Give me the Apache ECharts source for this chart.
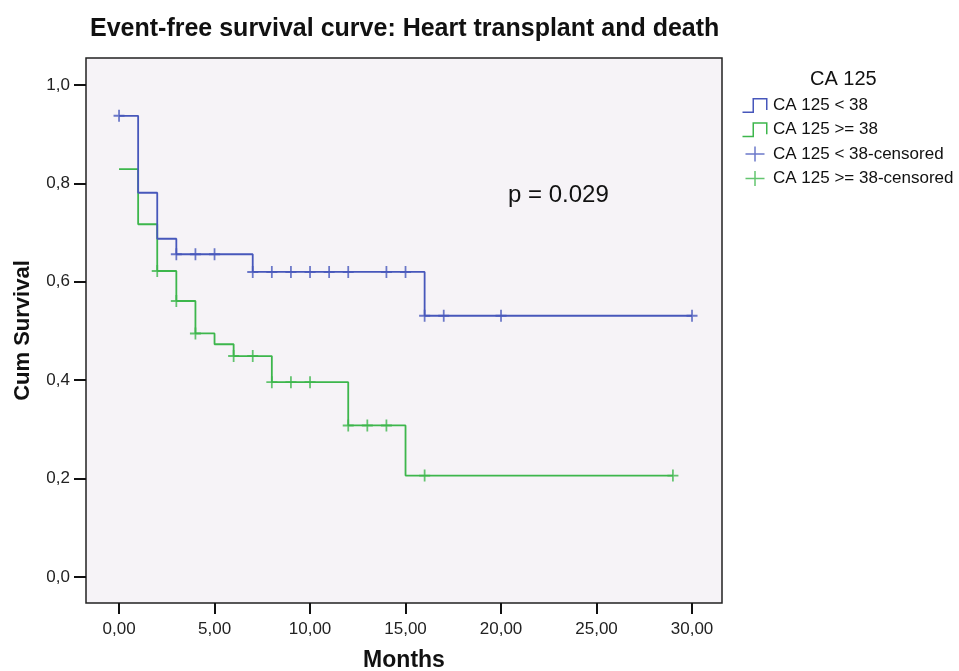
<!DOCTYPE html>
<html>
<head>
<meta charset="utf-8">
<script src="https://cdn.jsdelivr.net/npm/echarts@6/dist/echarts.min.js"></script>
<style>
html,body{margin:0;padding:0;background:#fff;}
#chart{width:959px;height:671px;}
</style>
</head>
<body>
<div id="chart"></div>
<script>
// ---- data ----
const xTicks = [0, 5, 10, 15, 20, 25, 30];
const yTicks = [0, 0.2, 0.4, 0.6, 0.8, 1.0];

// CA 125 < 38 : event times & survival after each step
const blueTimes = [0, 1, 2, 3, 7, 16, 30];
const blueSurv  = [0.9375, 0.781, 0.6875, 0.656, 0.620, 0.531, 0.531];
const blueCensorT = [0, 3, 4, 5, 7, 8, 9, 10, 11, 12, 14, 15, 16, 17, 20, 30];
const blueCensorS = [0.9375, 0.656, 0.656, 0.656, 0.620, 0.620, 0.620, 0.620, 0.620, 0.620, 0.620, 0.620, 0.531, 0.531, 0.531, 0.531];

// CA 125 >= 38
const greenTimes = [0, 1, 2, 3, 4, 5, 6, 8, 12, 15, 29];
const greenSurv  = [0.829, 0.717, 0.622, 0.561, 0.495, 0.473, 0.449, 0.396, 0.308, 0.206, 0.206];
const greenCensorT = [2, 3, 4, 6, 7, 8, 9, 10, 12, 13, 14, 16, 29];
const greenCensorS = [0.622, 0.561, 0.495, 0.449, 0.449, 0.396, 0.396, 0.396, 0.308, 0.308, 0.308, 0.206, 0.206];

const seriesNames = ['CA 125 < 38', 'CA 125 >= 38', 'CA 125 < 38-censored', 'CA 125 >= 38-censored'];

const BLUE = '#4757bb';
const GREEN = '#3db64c';
const FONT = '"Liberation Sans", Arial, sans-serif';

const pairs = (xs, ys) => xs.map((x, i) => [x, ys[i]]);

const plusSymbol = 'path://M4.2,0H5.8V4.2H10V5.8H5.8V10H4.2V5.8H0V4.2H4.2Z';
const stepIcon = 'path://M0,13.5L10,13.5L10,0L25,0L25,12L23.5,12L23.5,1.5L11.5,1.5L11.5,15L0,15Z';
const plusIcon = 'path://M0,0L0.01,0L0,0.01Z M26,15L25.99,15L26,14.99Z M3.5,6.75H12.25V0H13.75V6.75H22.5V8.25H13.75V15H12.25V8.25H3.5Z';

const chart = echarts.init(document.getElementById('chart'));
chart.setOption({
  animation: false,
  backgroundColor: '#ffffff',
  title: {
    text: 'Event-free survival curve: Heart transplant and death',
    left: 85, top: 12,
    textStyle: { fontFamily: FONT, fontSize: 25, fontWeight: 'bold', color: '#111' }
  },
  grid: {
    left: 86, right: 237, top: 58, bottom: 68,
    containLabel: false, outerBoundsMode: 'none',
    show: true, backgroundColor: '#f6f3f7', borderColor: '#222', borderWidth: 1.5
  },
  legend: {
    orient: 'vertical', left: 737, top: 92,
    itemWidth: 26, itemHeight: 15, itemGap: 7.3,
    textStyle: { fontFamily: FONT, fontSize: 17, color: '#111' },
    data: [
      { name: seriesNames[0], icon: stepIcon },
      { name: seriesNames[1], icon: stepIcon },
      { name: seriesNames[2], icon: plusIcon },
      { name: seriesNames[3], icon: plusIcon }
    ]
  },
  graphic: [
    { type: 'text', left: 810, top: 69, style: { text: 'CA 125', fontFamily: FONT, fontSize: 20, fill: '#111' } },
    { type: 'text', left: 508, top: 183, style: { text: 'p = 0.029', fontFamily: FONT, fontSize: 24, fill: '#111' } }
  ],
  xAxis: {
    type: 'value', min: -1.73, max: 31.57,
    name: 'Months', nameLocation: 'middle', nameGap: 46,
    nameTextStyle: { fontFamily: FONT, fontSize: 23, fontWeight: 'bold', color: '#111' },
    axisLine: { show: false, onZero: false },
    splitLine: { show: false },
    axisTick: { show: true, customValues: xTicks, length: 11, lineStyle: { color: '#111', width: 2 } },
    axisLabel: {
      customValues: xTicks, margin: 18, fontFamily: FONT, fontSize: 17, color: '#222',
      formatter: v => v.toFixed(2).replace('.', ',')
    }
  },
  yAxis: {
    type: 'value', min: -0.053, max: 1.055,
    name: 'Cum Survival', nameLocation: 'middle', nameGap: 52,
    nameTextStyle: { fontFamily: FONT, fontSize: 22, fontWeight: 'bold', color: '#111' },
    axisLine: { show: false, onZero: false },
    splitLine: { show: false },
    axisTick: { show: true, customValues: yTicks, length: 12, lineStyle: { color: '#111', width: 2 } },
    axisLabel: {
      customValues: yTicks, margin: 16, fontFamily: FONT, fontSize: 17, color: '#222',
      formatter: v => v.toFixed(1).replace('.', ',')
    }
  },
  series: [
    {
      name: seriesNames[0], type: 'line', step: 'end', showSymbol: false,
      data: pairs(blueTimes, blueSurv), color: BLUE,
      lineStyle: { color: BLUE, width: 1.8 }, z: 3
    },
    {
      name: seriesNames[1], type: 'line', step: 'end', showSymbol: false,
      data: pairs(greenTimes, greenSurv), color: GREEN,
      lineStyle: { color: GREEN, width: 1.8 }, z: 2
    },
    {
      name: seriesNames[2], type: 'scatter', symbol: plusSymbol, symbolSize: [11, 12],
      data: pairs(blueCensorT, blueCensorS), itemStyle: { color: BLUE }, z: 5
    },
    {
      name: seriesNames[3], type: 'scatter', symbol: plusSymbol, symbolSize: [11, 12],
      data: pairs(greenCensorT, greenCensorS), itemStyle: { color: GREEN }, z: 4
    }
  ]
});
</script>
</body>
</html>
